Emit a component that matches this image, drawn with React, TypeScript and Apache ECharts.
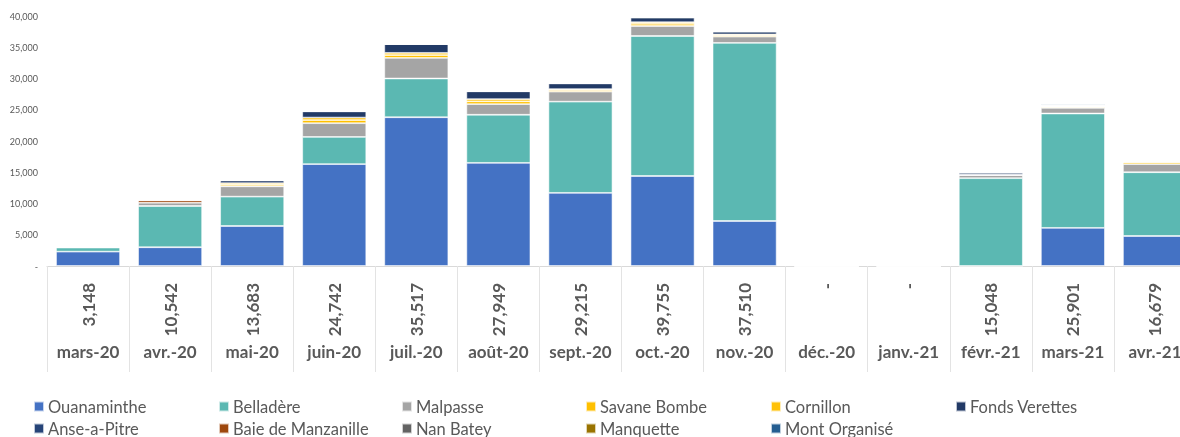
import React, { useEffect, useRef } from "react";
import * as echarts from "echarts";

const months = ["mars-20", "avr.-20", "mai-20", "juin-20", "juil.-20", "août-20", "sept.-20", "oct.-20", "nov.-20", "déc.-20", "janv.-21", "févr.-21", "mars-21", "avr.-21"];
const totals = [3148, 10542, 13683, 24742, 35517, 27949, 29215, 39755, 37510, 0, 0, 15048, 25901, 16679];

const ouanaminthe = [2300, 3000, 6400, 16300, 23800, 16500, 11700, 14400, 7200, 0, 0, 0, 6100, 4800];
const belladere = [650, 6600, 4700, 4350, 6200, 7700, 14600, 22400, 28500, 0, 0, 14050, 18300, 10200];
const malpasse = [100, 550, 1650, 2200, 3300, 1700, 1600, 1600, 1000, 0, 0, 500, 900, 1300];
const savaneBombe = [0, 0, 250, 500, 450, 450, 250, 350, 200, 0, 0, 0, 150, 379];
const cornillon = [0, 0, 250, 400, 350, 350, 150, 250, 150, 0, 0, 50, 100, 0];
const fondsVerettes = [0, 0, 433, 992, 1417, 1249, 915, 755, 460, 0, 0, 300, 200, 0];
const anseAPitre = [0, 0, 0, 0, 0, 0, 0, 0, 0, 0, 0, 148, 0, 0];
const baieDeManzanille = [98, 392, 0, 0, 0, 0, 0, 0, 0, 0, 0, 0, 0, 0];
const nanBatey = [0, 0, 0, 0, 0, 0, 0, 0, 0, 0, 0, 0, 0, 0];
const manquette = [0, 0, 0, 0, 0, 0, 0, 0, 0, 0, 0, 0, 0, 0];
const montOrganise = [0, 0, 0, 0, 0, 0, 0, 0, 0, 0, 0, 0, 151, 0];

const seriesDefs = [
  { name: "Ouanaminthe", data: ouanaminthe, color: "#4472C4" },
  { name: "Belladère", data: belladere, color: "#5BB8B2" },
  { name: "Malpasse", data: malpasse, color: "#A5A5A5" },
  { name: "Savane Bombe", data: savaneBombe, color: "#FFC000" },
  { name: "Cornillon", data: cornillon, color: "#FFC107" },
  { name: "Fonds Verettes", data: fondsVerettes, color: "#223A66" },
  { name: "Anse-a-Pitre", data: anseAPitre, color: "#264478" },
  { name: "Baie de Manzanille", data: baieDeManzanille, color: "#9E480E" },
  { name: "Nan Batey", data: nanBatey, color: "#636363" },
  { name: "Manquette", data: manquette, color: "#997300" },
  { name: "Mont Organisé", data: montOrganise, color: "#255E91" },
];

const legendCols = [33, 218, 401, 585, 770, 955];
const legendRows = [398, 420];

const FONT = "Lato, 'Open Sans', sans-serif";
const GREY = "#595959";

function fmt(v: number) {
  return v === 0 ? "-" : v.toLocaleString("en-US");
}

export default function App() {
  const ref = useRef<HTMLDivElement>(null);
  useEffect(() => {
    if (!ref.current) return;
    const chart = echarts.init(ref.current, undefined, { renderer: "svg" });
    const legends = seriesDefs.map((s, i) => ({
      data: [s.name],
      left: legendCols[i % 6],
      top: legendRows[Math.floor(i / 6)],
      padding: 0,
      itemWidth: 10,
      itemHeight: 10,
      icon: "rect",
      selectedMode: false,
      textStyle: { fontFamily: FONT, fontSize: 16.5, color: GREY, padding: [0, 0, 0, -1] },
    }));
    chart.setOption({
      animation: false,
      textStyle: { fontFamily: FONT },
      legend: legends,
      grid: { left: 47, top: 16, right: 0, bottom: 171, containLabel: false },
      xAxis: [
        {
          type: "category",
          data: months,
          position: "bottom",
          axisLine: { show: true, lineStyle: { color: "#D9D9D9", width: 1 } },
          axisTick: { show: true, length: 106, interval: 0, lineStyle: { color: "#E3E3E3", width: 1 } },
          axisLabel: { interval: 0, margin: 77, fontSize: 17, fontWeight: "bold", color: GREY, fontFamily: FONT },
        },
        {
          type: "category",
          data: totals,
          position: "bottom",
          axisLine: { show: false },
          axisTick: { show: false },
          axisLabel: {
            interval: 0,
            rotate: 90,
            margin: 17,
            fontSize: 17,
            fontWeight: "bold",
            color: GREY,
            fontFamily: FONT,
            formatter: (v: string) => fmt(Number(v)),
          },
        },
      ],
      yAxis: {
        type: "value",
        min: 0,
        max: 40000,
        interval: 5000,
        axisLine: { show: false },
        axisTick: { show: false },
        splitLine: { show: false },
        axisLabel: { fontSize: 9, color: GREY, margin: 9, fontFamily: FONT, formatter: (v: number) => fmt(v) },
      },
      series: seriesDefs.map((s) => ({
        name: s.name,
        type: "bar",
        stack: "total",
        xAxisIndex: 0,
        data: s.data,
        barCategoryGap: "22%",
        itemStyle: { color: s.color, borderColor: "rgba(255,255,255,0.7)", borderWidth: 0.8 },
      })),
    });
    return () => chart.dispose();
  }, []);
  return <div ref={ref} style={{ position: "fixed", left: 0, top: 0, width: 1196, height: 437 }} />;
}
